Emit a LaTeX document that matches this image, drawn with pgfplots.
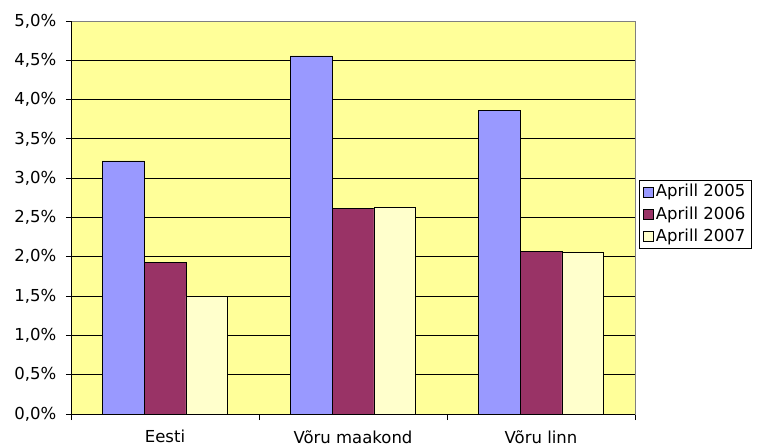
\documentclass[border=0pt]{standalone}
\usepackage{pgfplots}
\pgfplotsset{compat=1.18}
\usepackage{fontspec}
\setmainfont{DejaVu Sans}
\definecolor{bgyellow}{HTML}{FFFF99}
\definecolor{barblue}{HTML}{9999FF}
\definecolor{barplum}{HTML}{993366}
\definecolor{barcream}{HTML}{FFFFCC}
\begin{document}
\fontsize{16.5bp}{19bp}\selectfont
\begin{tikzpicture}
\begin{axis}[
    at={(0,0)}, anchor=south west,
    scale only axis,
    width=564bp, height=393bp,
    xmin=-0.5, xmax=2.5,
    ymin=0, ymax=5,
    ybar=0pt,
    bar width=41.9bp,
    axis background/.style={fill=bgyellow},
    axis line style={draw=gray},
    xtick={0,1,2},
    xticklabels={Eesti, Võru maakond, Võru linn},
    major x tick style={draw=none},
    minor xtick={-0.5,0.5,1.5,2.5},
    minor tick length=6bp,
    major tick length=5bp,
    tick align=outside,
    xtick pos=bottom, ytick pos=left,
    tick style={black, line width=0.8bp},
    ytick={0,0.5,...,5},
    yticklabels={{0,0\%},{0,5\%},{1,0\%},{1,5\%},{2,0\%},{2,5\%},{3,0\%},{3,5\%},{4,0\%},{4,5\%},{5,0\%}},
    ymajorgrids,
    grid style={black, line width=0.8bp},
    xticklabel style={yshift=-5.5bp},
    yticklabel style={xshift=-4bp},
    legend style={at={(rel axis cs:1.0071,0.5954)}, anchor=north west,
        draw=black, fill=white, line width=0.6bp,
        row sep=3.5bp, inner xsep=4bp, inner ysep=2bp,
        font=\fontsize{16.5bp}{19bp}\selectfont,
        legend cell align=left},
    legend image code/.code={\draw[#1, line width=0.6bp] (0bp,-5bp) rectangle (10bp,5bp);},
]
\addplot[draw=black, line width=0.8bp, fill=barblue] coordinates {(0,3.22) (1,4.555) (2,3.86)};
\addplot[draw=black, line width=0.8bp, fill=barplum] coordinates {(0,1.93) (1,2.61) (2,2.07)};
\addplot[draw=black, line width=0.8bp, fill=barcream] coordinates {(0,1.50) (1,2.63) (2,2.05)};
\legend{Aprill 2005, Aprill 2006, Aprill 2007}
\end{axis}
\draw[black, line width=0.9bp] (0,0) -- (0,393bp);
\draw[black, line width=0.9bp] (0,0) -- (564bp,0);
\pgfresetboundingbox
\path (-71bp,-32bp) rectangle (687bp,414bp);
\end{tikzpicture}
\end{document}
